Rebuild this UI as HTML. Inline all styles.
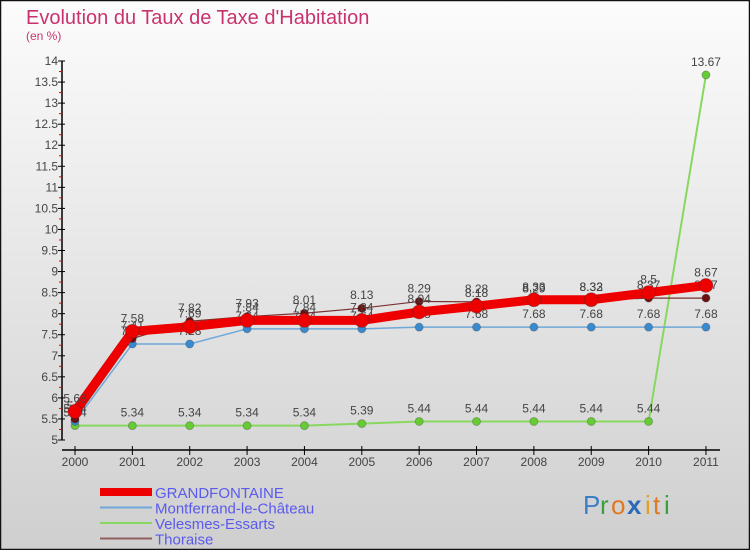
<!DOCTYPE html>
<html><head><meta charset="utf-8"><style>
html,body{margin:0;padding:0}
body{width:750px;height:550px;overflow:hidden;font-family:"Liberation Sans",sans-serif}
</style></head><body>
<svg id="chart" width="750" height="550" xmlns="http://www.w3.org/2000/svg">
<defs><linearGradient id="bg" x1="0" y1="0" x2="0" y2="1"><stop offset="0" stop-color="#fcfcfc"/><stop offset="1" stop-color="#cfcfcf"/></linearGradient></defs>
<rect x="0.5" y="0.5" width="749" height="549" fill="url(#bg)" stroke="#111" stroke-width="1.5"/>
<text x="26" y="24" font-size="20" fill="#c8336e">Evolution du Taux de Taxe d'Habitation</text>
<text x="26" y="40" font-size="12" fill="#c8336e">(en %)</text>
<g id="axes"></g>
<g id="series"></g>
<g id="legend"></g>
<g font-size="26" font-family="'Liberation Sans',sans-serif">
<text x="583" y="514" fill="#3a7fc8">P</text><text x="600" y="514" fill="#3aa03a">r</text><text x="611" y="514" fill="#e07820">o</text><text x="627" y="514" fill="#2a6ab8" font-weight="bold">x</text><text x="645" y="514" fill="#e0a020">i</text><text x="653" y="514" fill="#e07820">t</text><text x="664" y="514" fill="#3aa03a">i</text>
</g>
</svg>
<script>
const years=[2000,2001,2002,2003,2004,2005,2006,2007,2008,2009,2010,2011];
const yTicks=[5,5.5,6,6.5,7,7.5,8,8.5,9,9.5,10,10.5,11,11.5,12,12.5,13,13.5,14];
const grand=[5.68,7.58,7.69,7.84,7.84,7.84,8.04,8.18,8.33,8.33,8.5,8.67];
const mont=[5.44,7.28,7.28,7.64,7.64,7.64,7.68,7.68,7.68,7.68,7.68,7.68];
const vel=[5.34,5.34,5.34,5.34,5.34,5.39,5.44,5.44,5.44,5.44,5.44,13.67];
const thor=[5.5,7.41,7.82,7.93,8.01,8.13,8.29,8.28,8.29,8.32,8.37,8.37];
const names=["GRANDFONTAINE","Montferrand-le-Château","Velesmes-Essarts","Thoraise"];
const NS="http://www.w3.org/2000/svg";
const X=i=>75+i*57.36;
const Y=v=>440-(v-5)*42.11;
function mk(t,a,p){const e=document.createElementNS(NS,t);for(const k in a)e.setAttribute(k,a[k]);p.appendChild(e);return e;}
const axes=document.getElementById('axes');
let yl=mk('line',{x1:62,y1:Y(14),x2:62,y2:Y(5),stroke:'#000','stroke-width':1.5},axes);


yTicks.forEach(v=>{
 mk('line',{x1:58,x2:65,y1:Y(v),y2:Y(v),stroke:'#000'},axes);
 if(v<14) mk('line',{x1:59,x2:62,y1:Y(v+0.25),y2:Y(v+0.25),stroke:'#e00'},axes);
 const t=mk('text',{x:58,y:Y(v)+4,'text-anchor':'end','font-size':12,fill:'#444'},axes);
 
 
 t.textContent=String(v);
});
let xl=mk('line',{x1:62,y1:450,x2:720,y2:450,stroke:'#000','stroke-width':1.5},axes);


years.forEach((y,i)=>{
 mk('line',{x1:X(i),x2:X(i),y1:446,y2:455,stroke:'#000'},axes);
 const t=mk('text',{x:X(i),y:466,'text-anchor':'middle','font-size':12,fill:'#444'},axes);
 
 
 t.textContent=y;
});
const ser=document.getElementById('series');
const defs=[[vel,'#88d860','#66cc33',2,4],[mont,'#6fa8d8','#3a8ad0',1.5,4],[thor,'#7a3030','#6a1010',1.2,4],[grand,'#ee0000','#ee0000',9,7]];
const keys=['velesmes-essarts','montferrand-le-chateau','thoraise','grandfontaine'];
defs.forEach((d,si)=>{
 const [vals,lc,pc,w,r]=d;
 const g=mk('g',{},ser);
 
 
 const pl=mk('polyline',{points:vals.map((v,i)=>X(i)+','+Y(v)).join(' '),fill:'none',stroke:lc,'stroke-width':w,'stroke-linejoin':'round'},g);
 
 
 vals.forEach((v,i)=>{
  const c=mk('circle',{cx:X(i),cy:Y(v),r:r,fill:pc,stroke:'#333','stroke-opacity':0.3},g);
  
  
  const t=mk('text',{x:X(i),y:Y(v)-9,'text-anchor':'middle','font-size':12,fill:'#444'},g);
  
  
  t.textContent=String(v);
 });
});
const leg=document.getElementById('legend');
const lcols=['#ee0000','#6fa8d8','#88d860','#906060'];
const lw=[8,2,2,2];
names.forEach((n,i)=>{
 const y=492+i*15.5;
 const g=mk('g',{},leg);
 
 
 mk('line',{x1:100,x2:152,y1:y,y2:y,stroke:lcols[i],'stroke-width':lw[i]},g);
 const t=mk('text',{x:155,y:y+6,'font-size':15,fill:'#5a5aee'},g);
 t.textContent=n;
});
</script>
</body></html>
